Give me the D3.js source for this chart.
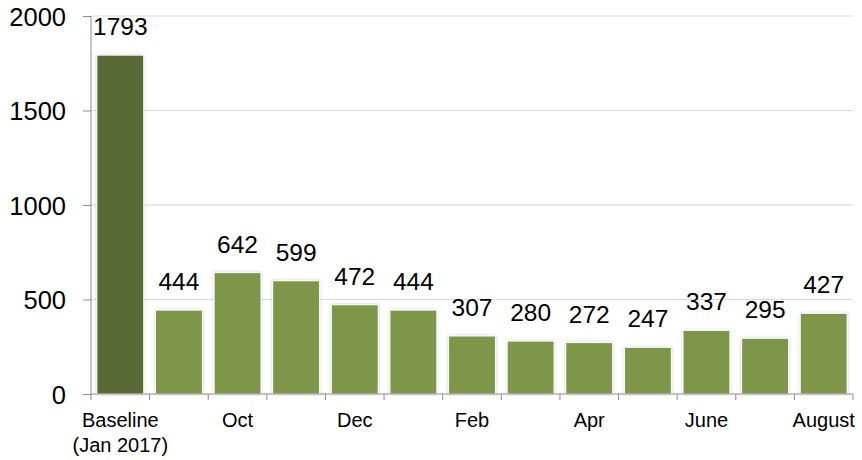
<!DOCTYPE html>
<html>
<head>
<meta charset="utf-8">
<script src="https://cdn.jsdelivr.net/npm/d3@7"></script>
<style>
  body { margin: 0; background: #fff; }
  svg text { font-family: "Liberation Sans", Arial, sans-serif; fill: #000; }
</style>
</head>
<body>
<div id="chart"></div>
<script>
// data
var categories = ["Baseline", "Sep", "Oct", "Nov", "Dec", "Jan", "Feb", "Mar", "Apr", "May", "June", "July", "August"];
var tick_labels = [["Baseline", "(Jan 2017)"], [], ["Oct"], [], ["Dec"], [], ["Feb"], [], ["Apr"], [], ["June"], [], ["August"]];
var values = [1793, 444, 642, 599, 472, 444, 307, 280, 272, 247, 337, 295, 427];
var y_ticks = [0, 500, 1000, 1500, 2000];

var width = 862, height = 460;
var margin = {top: 16, right: 9, bottom: 66, left: 91};

var svg = d3.select("#chart").append("svg")
  .attr("width", width)
  .attr("height", height);

// soft shadow round the bars
var defs = svg.append("defs");
var f = defs.append("filter").attr("id", "shadow")
  .attr("x", "-20%").attr("y", "-10%").attr("width", "140%").attr("height", "120%");
f.append("feDropShadow")
  .attr("dx", 0).attr("dy", 0)
  .attr("stdDeviation", 1.6)
  .attr("flood-color", "#000")
  .attr("flood-opacity", 0.22);

var x = d3.scaleBand()
  .domain(d3.range(categories.length))
  .range([margin.left, width - margin.right])
  .paddingInner(0.2)
  .paddingOuter(0.1);

var y = d3.scaleLinear()
  .domain([0, 2000])
  .range([height - margin.bottom, margin.top]);

/* gridlines */
svg.append("g")
  .selectAll("line")
  .data(y_ticks.slice(1))
  .enter().append("line")
  .attr("x1", margin.left)
  .attr("x2", width - margin.right)
  .attr("y1", function (d) { return y(d); })
  .attr("y2", function (d) { return y(d); })
  .attr("stroke", "#d9d9d9")
  .attr("stroke-width", 1);

/* bars */
svg.append("g")
  .selectAll("rect")
  .data(values)
  .enter().append("rect")
  .attr("x", function (d, i) { return x(i); })
  .attr("y", function (d) { return y(d); })
  .attr("width", x.bandwidth())
  .attr("height", function (d) { return y(0) - y(d); })
  .attr("fill", function (d, i) { return i === 0 ? "#586a35" : "#7e964a"; })
  .attr("stroke", "#fff")
  .attr("stroke-width", 1)
  .attr("filter", "url(#shadow)");

/* value labels */
svg.append("g")
  .selectAll("text")
  .data(values)
  .enter().append("text")
  .attr("x", function (d, i) { return x(i) + x.bandwidth() / 2; })
  .attr("y", function (d) { return y(d) - 20; })
  .attr("text-anchor", "middle")
  .style("font-size", "24.5px")
  .text(function (d) { return d; });

/* y axis */
var yAxis = svg.append("g")
  .attr("transform", "translate(" + margin.left + ",0)")
  .call(d3.axisLeft(y).tickValues(y_ticks).tickFormat(d3.format("d")).tickSize(8).tickPadding(17));
yAxis.selectAll("text").style("font-size", "25.5px").attr("fill", "#000").attr("dy", "0.36em");
yAxis.selectAll("line, path").attr("stroke", "#8c8c8c");
yAxis.select("path").attr("d", "M0," + y(2000) + "V" + y(0));

/* x axis: ticks at the band edges */
var xg = svg.append("g");
var step = x.step();
xg.append("line")
  .attr("x1", margin.left).attr("x2", width - margin.right)
  .attr("y1", y(0)).attr("y2", y(0))
  .attr("stroke", "#8c8c8c");
xg.selectAll(".tick")
  .data(d3.range(categories.length + 1))
  .enter().append("line")
  .attr("class", "tick")
  .attr("x1", function (i) { return margin.left + i * step; })
  .attr("x2", function (i) { return margin.left + i * step; })
  .attr("y1", y(0)).attr("y2", y(0) + 6)
  .attr("stroke", "#8c8c8c");

var lbl = xg.selectAll(".xlabel")
  .data(tick_labels)
  .enter().append("text")
  .attr("class", "xlabel")
  .attr("text-anchor", "middle")
  .attr("x", function (d, i) { return x(i) + x.bandwidth() / 2; })
  .attr("y", y(0) + 33)
  .style("font-size", "20px");
lbl.selectAll("tspan")
  .data(function (d) { return d; })
  .enter().append("tspan")
  .attr("x", function () { return d3.select(this.parentNode).attr("x"); })
  .attr("dy", function (d, j) { return j === 0 ? 0 : 25; })
  .text(function (d) { return d; });
</script>
</body>
</html>
